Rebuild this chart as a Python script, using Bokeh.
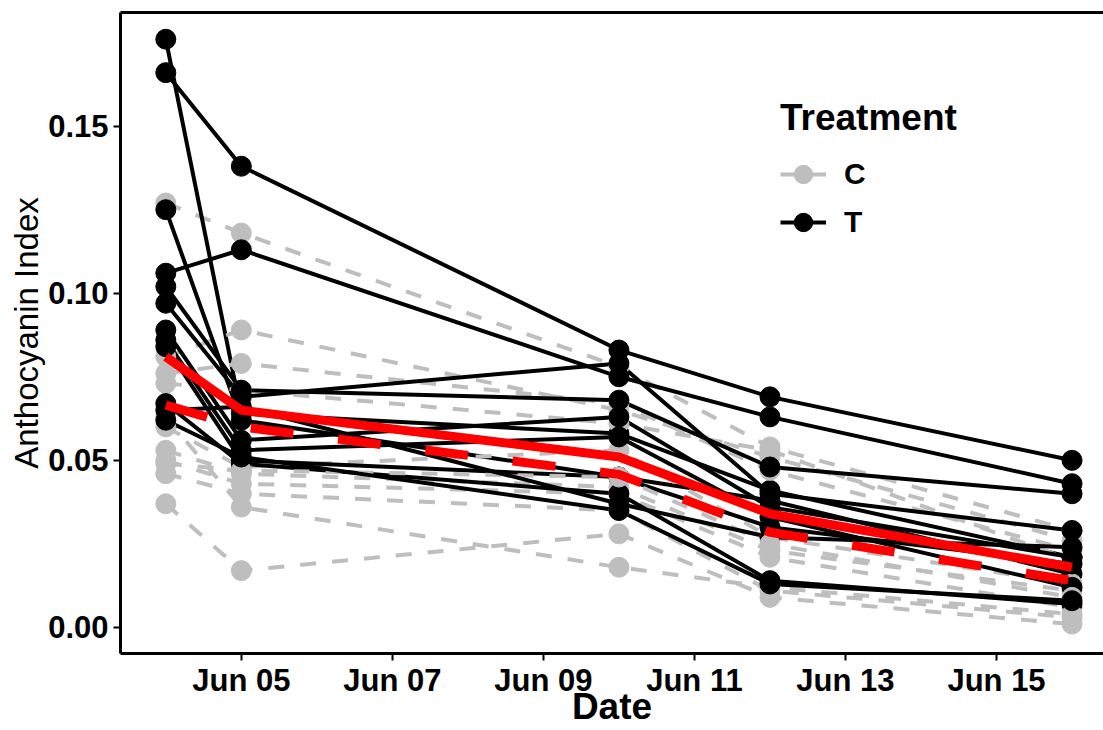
import pandas as pd
from bokeh.plotting import figure
from bokeh.models import (Range1d, FixedTicker, DatetimeTickFormatter, NumeralTickFormatter,
                          Legend, LegendItem, LinearAxis)
from bokeh.embed import file_html
from bokeh.resources import INLINE

dates = ["2021-06-04", "2021-06-05", "2021-06-10", "2021-06-12", "2021-06-16"]
tick_dates = ["2021-06-05", "2021-06-07", "2021-06-09", "2021-06-11", "2021-06-13", "2021-06-15"]
y_ticks = [0.00, 0.05, 0.10, 0.15]

# Treatment T (black, solid)
T1 = [0.176, 0.064, 0.058, 0.041, 0.021]
T2 = [0.166, 0.138, 0.083, 0.069, 0.050]
T3 = [0.125, 0.062, 0.045, 0.038, 0.016]
T4 = [0.106, 0.113, 0.075, 0.063, 0.043]
T5 = [0.102, 0.071, 0.068, 0.048, 0.040]
T6 = [0.097, 0.069, 0.079, 0.040, 0.029]
T7 = [0.089, 0.056, 0.063, 0.036, 0.021]
T8 = [0.086, 0.053, 0.057, 0.033, 0.012]
T9 = [0.084, 0.050, 0.045, 0.030, 0.019]
T10 = [0.067, 0.049, 0.040, 0.014, 0.007]
T11 = [0.065, 0.066, 0.037, 0.027, 0.024]
T12 = [0.062, 0.051, 0.035, 0.013, 0.008]

# Control C (grey, dashed)
C1 = [0.127, 0.118, 0.078, 0.054, 0.029]
C2 = [0.081, 0.089, 0.065, 0.051, 0.026]
C3 = [0.076, 0.079, 0.067, 0.047, 0.023]
C4 = [0.073, 0.071, 0.061, 0.053, 0.020]
C5 = [0.060, 0.048, 0.053, 0.027, 0.013]
C6 = [0.053, 0.046, 0.042, 0.023, 0.011]
C7 = [0.050, 0.043, 0.040, 0.021, 0.006]
C8 = [0.046, 0.040, 0.035, 0.011, 0.003]
C9 = [0.037, 0.017, 0.028, 0.009, 0.001]
C10 = [0.063, 0.036, 0.018, 0.012, 0.004]
C11 = [0.049, 0.047, 0.045, 0.025, 0.009]

T_mean = [0.081, 0.065, 0.051, 0.034, 0.018]
C_mean = [0.0665, 0.060, 0.0458, 0.0285, 0.014]

T_series = [T1, T2, T3, T4, T5, T6, T7, T8, T9, T10, T11, T12]
C_series = [C1, C2, C3, C4, C5, C6, C7, C8, C9, C10, C11]

x = pd.to_datetime(dates)
GREY = "#BEBEBE"

x0 = pd.Timestamp(dates[0]) - pd.Timedelta(hours=14.4)
x1 = pd.Timestamp(dates[-1]) + pd.Timedelta(hours=10)

p = figure(width=1103, height=730, output_backend="svg", toolbar_location=None,
           x_axis_type="datetime",
           x_range=Range1d(x0, x1), y_range=Range1d(-0.0078, 0.184),
           min_border_left=120, min_border_right=0, min_border_top=12, min_border_bottom=77)
p.grid.visible = False
p.outline_line_color = None
p.background_fill_color = "white"

FONT = "Liberation Sans"

# axes
xa = p.xaxis[0]
xa.ticker = FixedTicker(ticks=[pd.Timestamp(d).value // 10**6 for d in tick_dates])
fmt = "%b %d"
xa.formatter = DatetimeTickFormatter(days=fmt, months=fmt, hours=fmt, years=fmt,
                                     hourmin=fmt, minutes=fmt, minsec=fmt, seconds=fmt,
                                     milliseconds=fmt, microseconds=fmt)
xa.axis_label = "Date"
ya = p.yaxis[0]
ya.ticker = FixedTicker(ticks=y_ticks)
ya.formatter = NumeralTickFormatter(format="0.00")
ya.axis_label = "Anthocyanin Index"

for ax in (xa, ya):
    ax.axis_line_width = 3
    ax.axis_line_color = "black"
    ax.major_tick_line_width = 2
    ax.major_tick_line_color = "black"
    ax.major_tick_out = 7
    ax.major_tick_in = 0
    ax.minor_tick_out = 0
    ax.minor_tick_in = 0
    ax.major_label_text_font = FONT
    ax.major_label_text_font_style = "bold"
    ax.major_label_text_font_size = "31px"
    ax.major_label_text_color = "black"
    ax.axis_label_text_font = FONT
    ax.axis_label_text_color = "black"
xa.major_label_standoff = 2
xa.axis_label_standoff = -15
xa.axis_label_text_line_height = 0.6
xa.axis_label_text_font_style = "bold"
xa.axis_label_text_font_size = "37px"
ya.major_label_standoff = 5
ya.axis_label_standoff = 0
ya.axis_label_text_font_style = "normal"
ya.axis_label_text_font_size = "33px"

top = LinearAxis(ticker=FixedTicker(ticks=[]), axis_line_width=3, axis_line_color="black",
                 major_tick_out=0, minor_tick_out=0, major_label_text_font_size="0px")
p.add_layout(top, "above")

# individual lines
c_lines, t_lines = [], []
n = max(len(T_series), len(C_series))
for i in range(n):
    if i < len(C_series):
        c_lines.append(p.line(x, C_series[i], line_color=GREY, line_width=4, line_dash="16 16"))
    if i < len(T_series):
        t_lines.append(p.line(x, T_series[i], line_color="black", line_width=4))

c_pts, t_pts = [], []
for i in range(n):
    if i < len(T_series):
        t_pts.append(p.scatter(x, T_series[i], size=20, fill_color="black", line_color="black"))
    if i < len(C_series):
        c_pts.append(p.scatter(x, C_series[i], size=20, fill_color=GREY, line_color=GREY))

# group means
p.line(x, C_mean, line_color="#FF0000", line_width=9, line_dash="43 45")
p.line(x, T_mean, line_color="#FF0000", line_width=9, line_join="round")

legend = Legend(items=[LegendItem(label="C", renderers=[c_lines[0], c_pts[0]]),
                       LegendItem(label="T", renderers=[t_lines[0], t_pts[0]])],
                location=(660, 407), title="Treatment",
                title_text_font=FONT, title_text_font_style="bold", title_text_font_size="37px",
                title_text_color="black", title_standoff=11,
                label_text_font=FONT, label_text_font_style="bold", label_text_font_size="30px",
                label_text_color="black",
                glyph_width=46, glyph_height=48, label_height=48, spacing=0, padding=0, margin=0,
                label_standoff=18, border_line_color=None, background_fill_alpha=0)
p.add_layout(legend)

open("out.html", "w").write(file_html(p, INLINE))
